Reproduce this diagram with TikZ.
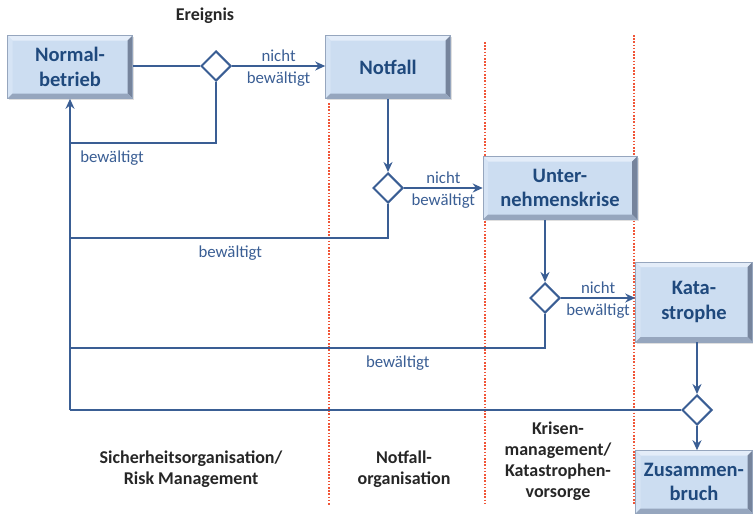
\documentclass[tikz,border=0pt]{standalone}
\usepackage{fontspec}
\setmainfont{Carlito}
\usetikzlibrary{shapes.geometric, arrows.meta, positioning, calc, shadows}
\definecolor{BoxText}{RGB}{31, 73, 125}
\definecolor{FlowBlue}{RGB}{58, 94, 148}
\definecolor{BoxFill}{RGB}{204, 221, 241}
\definecolor{BevelLight}{RGB}{228, 237, 249}
\definecolor{BevelSide}{RGB}{214, 228, 245}
\definecolor{BevelDark}{RGB}{118, 132, 156}
\definecolor{BevelLow}{RGB}{150, 166, 190}
\definecolor{SepRed}{RGB}{240, 85, 55}

\begin{document}
\begin{tikzpicture}[x=1pt, y=-1pt,
        bevel/.style={path picture={
            \coordinate (bl) at (path picture bounding box.south west);
            \coordinate (tr) at (path picture bounding box.north east);
            \fill[BevelLight] (bl |- tr) -- (tr) -- ([shift={(-5pt,-5pt)}]tr) -- ([shift={(5pt,-5pt)}]bl |- tr) -- cycle;
            \fill[BevelSide] (bl |- tr) -- (bl) -- ([shift={(5pt,5pt)}]bl) -- ([shift={(5pt,-5pt)}]bl |- tr) -- cycle;
            \fill[BevelDark] (tr) -- (tr |- bl) -- ([shift={(-5pt,5pt)}]tr |- bl) -- ([shift={(-5pt,-5pt)}]tr) -- cycle;
            \fill[BevelLow] (bl) -- (tr |- bl) -- ([shift={(-5pt,5pt)}]tr |- bl) -- ([shift={(5pt,5pt)}]bl) -- cycle;
        }},
        stage/.style={draw=BevelLow, line width=0.6pt, fill=BoxFill, bevel, minimum height=63pt, inner sep=0pt,
            align=center, text=BoxText, font=\fontsize{20.5}{24.5}\selectfont\bfseries,
            drop shadow={opacity=0.25, shadow xshift=1.5pt, shadow yshift=-1.5pt}},
        decision/.style={diamond, draw=FlowBlue, line width=2pt, fill=white, minimum width=30pt, minimum height=30pt, inner sep=0pt},
        flow/.style={draw=FlowBlue, line width=2.2pt},
        arr/.style={-{Stealth[length=10pt, width=9pt]}},
        lbl/.style={text=FlowBlue, font=\fontsize{16.8}{19}\selectfont, inner sep=0pt},
        lane/.style={font=\fontsize{18}{21}\selectfont\bfseries, align=center, text=black!85},
        sep/.style={draw=SepRed, line width=1.6pt, dash pattern=on 1.6pt off 1.6pt}
    ]
    \useasboundingbox (0,0) rectangle (753,514);

    % Trennlinien der Zuständigkeiten
    \foreach \x/\ytop in {329/103, 485/42, 634/35}
        \draw[sep] (\x,\ytop) -- (\x,505);

    % Zustände
    \node[stage, minimum width=125pt] (normal) at (70,67) {Normal-\\betrieb};
    \node[stage, minimum width=125pt] (notfall) at (388,67) {Notfall};
    \node[stage, minimum width=154pt] (krise) at (560,188) {Unter-\\nehmenskrise};
    \node[stage, minimum width=117pt, minimum height=80pt] (kata) at (694,302) {Kata-\\strophe};
    \node[stage, minimum width=117pt] (zusammen) at (694,482) {Zusammen-\\bruch};

    % Entscheidungen
    \node[decision] (d1) at (216,66) {};
    \node[decision] (d2) at (388,188) {};
    \node[decision] (d3) at (545,298) {};
    \node[decision] (d4) at (697,410) {};

    % Rückwege zum Normalbetrieb
    \coordinate (r1) at (70,143);
    \coordinate (r2) at (70,238);
    \coordinate (r3) at (70,348);
    \coordinate (r4) at (70,410);

    % Beschriftungen
    \node[lane] (ereignis) at (205,16) {Ereignis};
    \node[lane] (lsicher) at (191,469) {Sicherheitsorganisation/\\Risk Management};
    \node[lane] (lnotfall) at (404,469) {Notfall-\\organisation};
    \node[lane] (lkrise) at (558,461) {Krisen-\\management/\\Katastrophen-\\vorsorge};

    % Eskalation
    \draw[flow] (normal.east |- d1) -- (d1.west);
    \draw[flow, arr] (d1.east) -- node[lbl, above=3pt] {nicht} node[lbl, below=5pt] {bewältigt} (notfall.west |- d1);
    \draw[flow, arr] (notfall.south) -- (d2.north);
    \draw[flow, arr] (d2.east) -- node[lbl, above=3pt] {nicht} node[lbl, below=5pt] {bewältigt} (krise.west |- d2);
    \draw[flow, arr] (krise.south -| d3) -- (d3.north);
    \draw[flow, arr] (d3.east) -- node[lbl, above=3pt] {nicht} node[lbl, below=5pt] {bewältigt} (kata.west |- d3);
    \draw[flow, arr] (kata.south -| d4) -- (d4.north);
    \draw[flow, arr] (d4.south) -- (zusammen.north -| d4);

    % bewältigt -> zurück
    \draw[flow] (d1.south) |- node[lbl, pos=0.856, below=7pt] {bewältigt} (r1);
    \draw[flow] (d2.south) |- node[lbl, pos=0.748, below=7pt] {bewältigt} (r2);
    \draw[flow] (d3.south) |- node[lbl, pos=0.655, below=7pt] {bewältigt} (r3);
    \draw[flow] (d4.west) -- (r4);
    \draw[flow, arr] (r4) -- (normal.south);

\end{tikzpicture}
\end{document}
